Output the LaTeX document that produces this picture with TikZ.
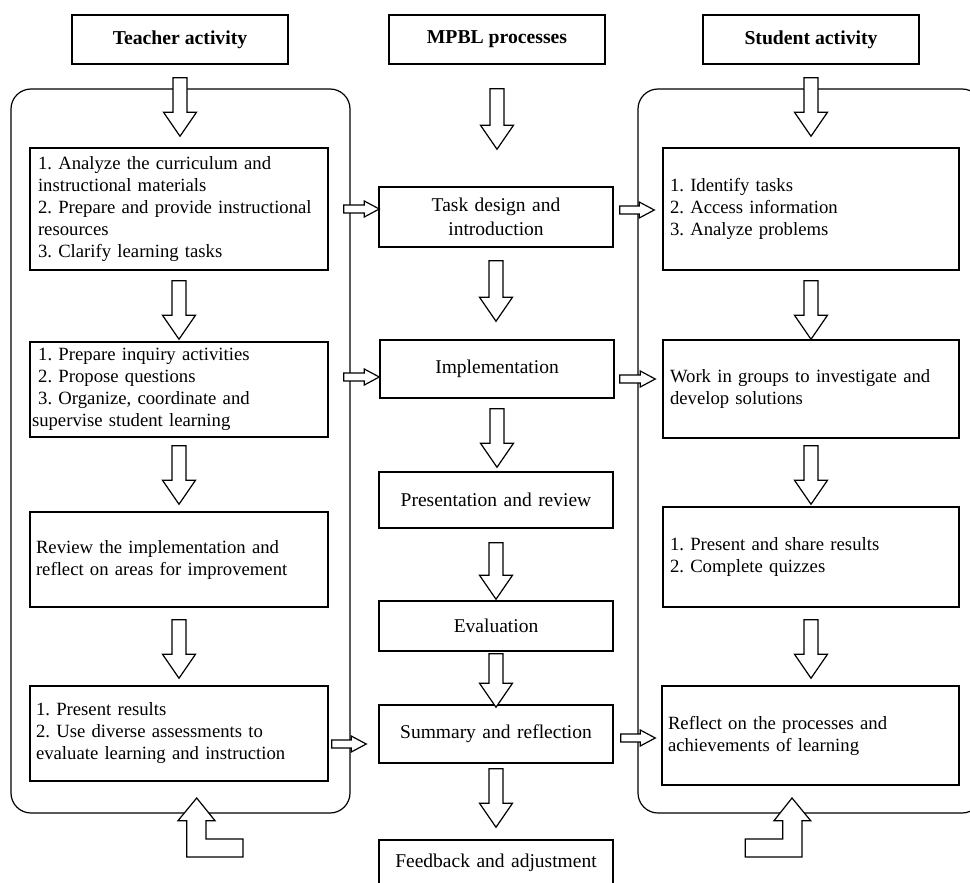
\documentclass[tikz,border=0pt]{standalone}
\usepackage{fontspec}
\setmainfont{Liberation Serif}
\usetikzlibrary{calc}

%% block arrow pointing down: from below node #1 (gap #3) to above node #2 (gap #4)
\newcommand{\dnarrow}[4]{%
  \draw[blockarrow] let \p1=($(#1.south)+(0,#3)$), \p2=($(#2.north)-(0,#4)$) in
    (\x1-7pt,\y1) -- (\x1+7pt,\y1) -- (\x1+7pt,\y2+24pt) -- (\x1+16.5pt,\y2+24pt)
    -- (\x1,\y2) -- (\x1-16.5pt,\y2+24pt) -- (\x1-7pt,\y2+24pt) -- cycle;}
%% block arrow pointing right: from node #1 (gap #3) to node #2 (gap #4), at height #5
\newcommand{\rtarrow}[5]{%
  \draw[blockarrow] let \p1=($(#1.east)+(#3,0)$), \p2=($(#2.west)-(#4,0)$), \p3=(0,#5) in
    (\x1,\y3+4pt) -- (\x2-15pt,\y3+4pt) -- (\x2-15pt,\y3+8pt) -- (\x2,\y3)
    -- (\x2-15pt,\y3-8pt) -- (\x2-15pt,\y3-4pt) -- (\x1,\y3-4pt) -- cycle;}

\tikzset{
  txt/.style={font=\fontsize{18.7}{22}\selectfont\frenchspacing},
  headbox/.style={draw, line width=1.6pt, minimum width=216pt, minimum height=49pt,
    font=\fontsize{19.7}{22}\selectfont\bfseries},
  actbox/.style={draw, line width=1.5pt, txt, align=left, inner xsep=7pt, text width=284pt},
  stubox/.style={actbox, text width=282pt},
  procbox/.style={draw, line width=1.5pt, align=center, inner xsep=7pt, text width=220pt,
    font=\fontsize{19.5}{24}\selectfont},
  panel/.style={line width=1.2pt, rounded corners=20pt},
  blockarrow/.style={line width=1.2pt, fill=white, draw=black, line join=miter},
}

\begin{document}
\begin{tikzpicture}[x=1pt,y=-1pt]
  \useasboundingbox (0,0) rectangle (970,883);
  \clip (0,0) rectangle (970,883);

  %% Column frames
  \draw[panel] (11,89) rectangle (350,813);
  \draw[panel] (638,89) rectangle (982,813);

  %% Column headers
  \node[headbox] (TEACH) at (180,39.5) {Teacher activity};
  \node[headbox] (MPBL)  at (497,39.5) {MPBL processes};
  \node[headbox] (STUD)  at (811,39.5) {Student activity};

  %% Teacher activity
  \node[actbox, minimum height=122pt, inner xsep=8pt, text width=282pt] (T1) at (179,209)
    {1. Analyze the curriculum and\\instructional materials\\2. Prepare and provide instructional\\resources\\3. Clarify learning tasks};
  \node[actbox, minimum height=95pt, inner xsep=2pt, text width=294pt] (T2) at (179,389.5)
    {\ 1. Prepare inquiry activities\\\ 2. Propose questions\\\ 3. Organize, coordinate and\\supervise student learning};
  \node[actbox, minimum height=95pt, inner xsep=6pt, text width=286pt] (T3) at (179,559.5)
    {Review the implementation and\\reflect on areas for improvement};
  \node[actbox, minimum height=95pt, inner xsep=6pt, text width=286pt] (T4) at (179,733.5)
    {1. Present results\\2. Use diverse assessments to\\evaluate learning and instruction};

  %% MPBL processes
  \node[procbox, minimum height=60pt] (P1) at (496,217) {Task design and\\introduction};
  \node[procbox, minimum height=58pt] (P2) at (497,369) {Implementation};
  \node[procbox, minimum height=56pt] (P3) at (496,500) {Presentation and review};
  \node[procbox, minimum height=50pt] (P4) at (496,626) {Evaluation};
  \node[procbox, minimum height=58pt] (P5) at (496,734) {Summary and reflection};
  \node[procbox, minimum height=46pt] (P6) at (496,863) {Feedback and adjustment};

  %% Student activity
  \node[stubox, minimum height=122pt] (S1) at (811,209)
    {1. Identify tasks\\2. Access information\\3. Analyze problems};
  \node[stubox, minimum height=98pt] (S2) at (811,389)
    {Work in groups to investigate and\\develop solutions};
  \node[stubox, minimum height=100pt] (S3) at (811,557)
    {1. Present and share results\\2. Complete quizzes};
  \node[stubox, minimum height=99pt, inner xsep=6pt, text width=285pt] (S4) at (810.5,735.5)
    {Reflect on the processes and\\achievements of learning};

  %% Downward arrows
  \dnarrow{TEACH}{T1}{13}{11}
  \foreach \a/\b/\g/\h in {T1/T2/10/2, T2/T3/8/7, T3/T4/12/7}
    {\dnarrow{\a}{\b}{\g}{\h}}
  \dnarrow{MPBL}{P1}{24}{37}
  \foreach \a/\b/\g/\h in {P1/P2/13/18, P2/P3/10/4, P3/P4/14/1, P4/P5/2/-3, P5/P6/5/12}
    {\dnarrow{\a}{\b}{\g}{\h}}
  \dnarrow{STUD}{S1}{13}{11}
  \foreach \a/\b/\g/\h in {S1/S2/10/0, S2/S3/7/2, S3/S4/12/7}
    {\dnarrow{\a}{\b}{\g}{\h}}

  %% Arrows into and out of the processes
  \rtarrow{T1}{P1}{15}{-1}{209}
  \rtarrow{T2}{P2}{15}{0}{377}
  \rtarrow{T4}{P5}{3}{12}{744}
  \rtarrow{P1}{S1}{6}{8}{210}
  \rtarrow{P2}{S2}{5}{7}{379}
  \rtarrow{P5}{S4}{7}{6}{738}

  %% Feedback loops under the frames
  \draw[blockarrow] (186.7,857) -- (186.7,820.7) -- (178,820.7) -- (196.7,798) -- (215,820.7)
    -- (206,820.7) -- (206,839) -- (243,839) -- (243,857) -- cycle;
  \draw[blockarrow] (802,857) -- (802,820.7) -- (810.7,820.7) -- (792,798) -- (774,820.7)
    -- (782.7,820.7) -- (782.7,839) -- (745.3,839) -- (745.3,857) -- cycle;
\end{tikzpicture}
\end{document}
